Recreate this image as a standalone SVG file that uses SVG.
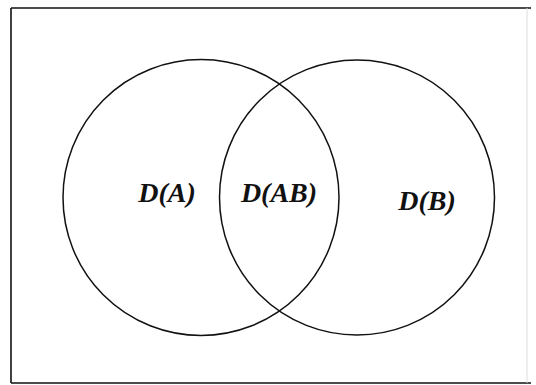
<svg xmlns="http://www.w3.org/2000/svg" width="536" height="385" viewBox="0 0 536 385">
<style>
.frame{stroke:#111;stroke-width:1.6;fill:none}
.set{fill:none;stroke:#111;stroke-width:1.5}
.lbl{font-family:"Liberation Serif","Times New Roman",serif;font-weight:bold;font-style:italic;font-size:28px;fill:#111;text-anchor:middle}
</style>
<rect width="536" height="385" fill="#fff"/>
<g id="frame">
<line class="frame" x1="11" y1="8" x2="531" y2="8"/>
<line class="frame" x1="11" y1="8" x2="11" y2="383"/>
<line class="frame" x1="11" y1="383" x2="531" y2="383"/>
<line x1="527" y1="8" x2="527" y2="383" stroke="#ddd" stroke-width="1"/>
</g>
<g id="setA">
<circle class="set" cx="201" cy="197.5" r="138"/>
<text class="lbl" x="167" y="202">D(A)</text>
</g>
<g id="setB">
<circle class="set" cx="357" cy="197.5" r="137.5"/>
<text class="lbl" x="427" y="210">D(B)</text>
</g>
<g id="intersection">
<text class="lbl" x="279" y="202">D(AB)</text>
</g>
<g id="connectors"></g>
</svg>
